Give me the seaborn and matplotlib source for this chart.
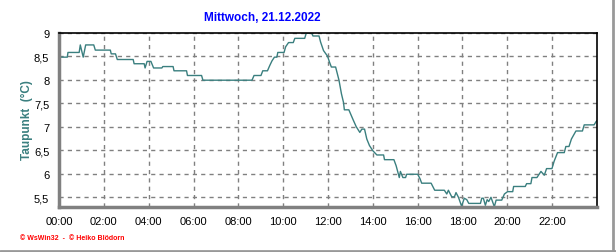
import matplotlib
matplotlib.use("Agg")
import matplotlib.pyplot as plt
import seaborn as sns
import pandas as pd
from matplotlib.ticker import FuncFormatter, MultipleLocator
from matplotlib.lines import Line2D

hours = [0.0, 0.37, 0.4, 0.9, 0.95, 1.08, 1.19, 1.55, 1.62, 2.29, 2.33, 2.52, 2.6, 3.31, 3.35, 3.8,
         3.84, 3.93, 4.1, 4.22, 4.59, 4.63, 5.09, 5.13, 5.69, 5.73, 6.36, 6.42, 8.61, 8.7, 9.01, 9.09,
         9.3, 9.4, 9.5, 9.61, 9.72, 9.76, 10.04, 10.11, 10.24, 10.45, 10.52, 10.96, 11.03, 11.27, 11.33,
         11.6, 11.67, 11.8, 11.98, 12.07, 12.15, 12.34, 12.49, 12.6, 12.69, 12.73, 12.93, 13.11, 13.26,
         13.42, 13.51, 13.63, 13.73, 13.85, 14.0, 14.18, 14.48, 14.52, 14.94, 15.04, 15.14, 15.18, 15.23,
         15.34, 15.46, 15.51, 16.0, 16.1, 16.18, 16.6, 16.76, 17.19, 17.3, 17.37, 17.52, 17.64, 17.71,
         17.82, 17.96, 18.08, 18.19, 18.28, 18.8, 18.86, 18.93, 19.02, 19.1, 19.17, 19.27, 19.42, 19.5,
         19.75, 19.87, 20.01, 20.24, 20.28, 20.8, 20.86, 21.05, 21.1, 21.32, 21.5, 21.65, 21.75, 21.99,
         22.09, 22.24, 22.54, 22.61, 22.75, 22.86, 23.06, 23.35, 23.43, 23.87, 23.96, 24.0]
dewpoint = [8.48, 8.48, 8.58, 8.58, 8.74, 8.48, 8.74, 8.74, 8.63, 8.63, 8.55, 8.55, 8.43, 8.43, 8.34, 8.34,
            8.25, 8.39, 8.39, 8.25, 8.25, 8.28, 8.28, 8.19, 8.19, 8.09, 8.09, 7.99, 7.99, 8.09, 8.09, 8.19,
            8.19, 8.3, 8.4, 8.48, 8.48, 8.58, 8.58, 8.7, 8.79, 8.79, 8.88, 8.88, 8.99, 8.99, 8.93,
            8.93, 8.8, 8.62, 8.5, 8.37, 8.27, 8.27, 7.99, 7.7, 7.52, 7.36, 7.36, 7.16, 7.0,
            6.88, 6.95, 6.95, 6.74, 6.6, 6.49, 6.4, 6.4, 6.3, 6.3, 6.17, 5.99, 5.92, 6.05,
            5.92, 5.92, 5.99, 5.99, 5.9, 5.8, 5.8, 5.65, 5.65, 5.57, 5.65, 5.51, 5.51, 5.6,
            5.5, 5.31, 5.48, 5.45, 5.37, 5.37, 5.48, 5.48, 5.33, 5.45, 5.41, 5.5, 5.3, 5.44,
            5.44, 5.57, 5.62, 5.62, 5.73, 5.73, 5.79, 5.79, 5.92, 5.92, 6.05, 5.97, 6.11, 6.11,
            6.27, 6.45, 6.45, 6.58, 6.58, 6.74, 6.91, 6.91, 7.04, 7.04, 7.11, 7.13]

x_ticks = list(range(0, 24, 2))
x_labels = ["00:00", "02:00", "04:00", "06:00", "08:00", "10:00", "12:00", "14:00",
            "16:00", "18:00", "20:00", "22:00"]
y_ticks = [5.5, 6, 6.5, 7, 7.5, 8, 8.5, 9]

title = "Mittwoch, 21.12.2022"
ylabel = "Taupunkt  (°C)"
credit = "© WsWin32  -  © Heiko Blödorn"

sns.set_style("white")
plt.rcParams['font.family'] = ['Liberation Sans', 'DejaVu Sans']

W, H = 616, 253
fig = plt.figure(figsize=(W / 100, H / 100), dpi=100)
ax = fig.add_axes([59 / W, 1 - 207.7 / H, (597 - 59) / W, (207.7 - 33.7) / H])

df = pd.DataFrame({"h": hours, "v": dewpoint})
sns.lineplot(data=df, x="h", y="v", sort=False, ax=ax, color="#3A7F7F", linewidth=1.0)

ax.set_xlim(0, 24)
ax.set_ylim(5.3, 9.0)
ax.set_xticks(x_ticks)
ax.set_xticklabels(x_labels)
ax.set_yticks(y_ticks)
ax.yaxis.set_major_formatter(FuncFormatter(lambda v, p: (f"{v:g}").replace(".", ",")))
ax.xaxis.set_minor_locator(MultipleLocator(0.5))
ax.yaxis.set_minor_locator(MultipleLocator(0.1))
ax.set_xlabel("")
ax.set_ylabel("")

ax.grid(True, which="major", color="#808080", linestyle=(0, (3, 3)), linewidth=1)
ax.tick_params(axis="both", which="major", labelsize=8, length=4, width=1, color="#808080",
               direction="out", pad=3, labelcolor="black")
ax.tick_params(axis="both", which="minor", length=2, width=1, color="#808080", direction="out")

for s in ["left", "bottom"]:
    ax.spines[s].set_color("#808080")
    ax.spines[s].set_linewidth(2.5)
for s in ["top", "right"]:
    ax.spines[s].set_color("black")
    ax.spines[s].set_linewidth(1.2)

fig.text(262 / W, 1 - 18 / H, title, color="#0000FF", fontsize=8.5, fontweight="bold",
         ha="center", va="center")
fig.text(27 / W, 1 - 120 / H, ylabel, color="#3A7F7F", fontsize=8.5, fontweight="bold",
         rotation=90, ha="center", va="center")
fig.text(20 / W, 1 - 239 / H, credit, color="#FF0000", fontsize=5, fontweight="bold",
         ha="left", va="center")

# figure border (right and bottom)
fig.add_artist(Line2D([0, 1], [1.5 / H, 1.5 / H], transform=fig.transFigure, color="#999999", lw=2))
fig.add_artist(Line2D([1 - 3 / W, 1 - 3 / W], [0, 1], transform=fig.transFigure, color="#999999", lw=2))

fig.savefig("out.png", dpi=100)
